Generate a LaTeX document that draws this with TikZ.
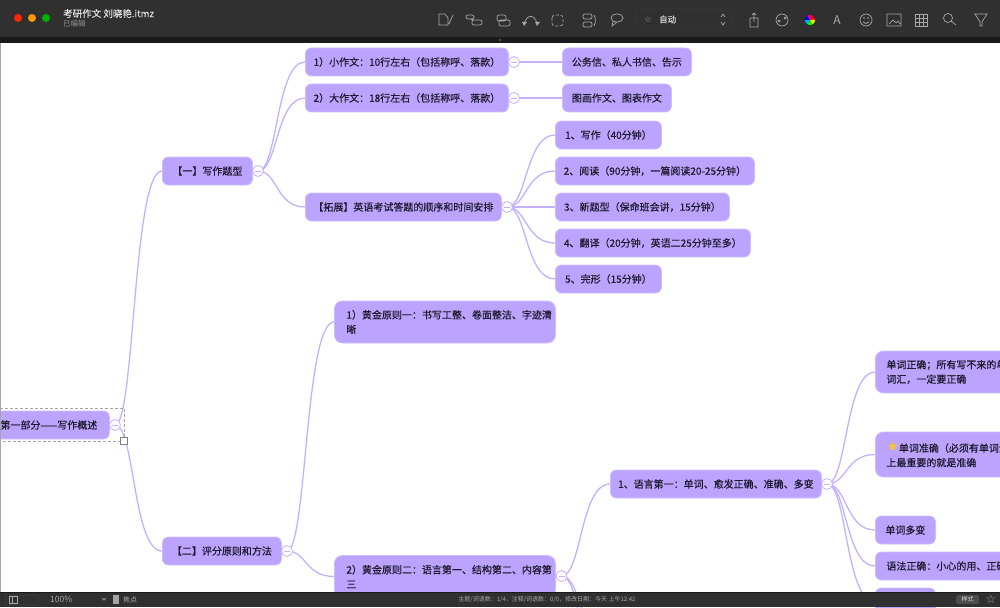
\documentclass[tikz,border=0pt]{standalone}
\usepackage{fontspec}
\usepackage{xcolor}
\setmainfont{Noto Sans CJK SC}
\newfontfamily\topicfont[FakeBold=0.35]{Noto Sans CJK SC}
\newfontfamily\symbolfont{DejaVu Sans}
\usetikzlibrary{calc,backgrounds}

\definecolor{topicfill}{HTML}{BBA3FF}
\definecolor{topicedge}{HTML}{CDBDFF}
\definecolor{branchcolor}{HTML}{C5B1FF}
\definecolor{topictext}{HTML}{1D1A2B}
\definecolor{titlebar}{HTML}{303030}
\definecolor{barstrip}{HTML}{1A1A1A}
\definecolor{iconcolor}{HTML}{A8A8A8}
\definecolor{stargold}{HTML}{F7C535}

\tikzset{
  topic/.style={draw=topicedge,fill=topicfill,line width=.8pt,rounded corners=6pt,anchor=west,
    minimum height=28pt,inner xsep=0pt,inner ysep=0pt,font=\topicfont\fontsize{10}{14.5}\selectfont,
    text=topictext,align=left},
  fold/.style={circle,draw=branchcolor,fill=white,line width=.8pt,minimum size=11pt,inner sep=0pt,
    path picture={\draw[branchcolor,line width=.7pt] (path picture bounding box.center) ++(-3pt,0) -- ++(6pt,0);}},
  branchline/.style={draw=branchcolor,line width=1.3pt,
    to path={.. controls ($(\tikztostart)!.42!(\tikztotarget |- \tikztostart)$)
      and ($(\tikztotarget)!.62!(\tikztostart |- \tikztotarget)$) .. (\tikztotarget)}},
  toolicon/.style={draw=iconcolor,line width=.7pt},
  bartext/.style={text=iconcolor,inner sep=0pt},
}

\begin{document}
\begin{tikzpicture}[x=1pt,y=-1pt]
\clip (0,0) rectangle (1000,607);

\node[topic,minimum width=121pt] (rootTopic) at (-12,425) {第一部分——写作概述};
\node[fold] (rootFold) at (115,425) {};

\node[topic,minimum width=90pt,align=center] (typeTopic) at (162,171) {【一】写作题型};
\node[fold] (typeFold) at (258,171) {};
\node[topic,minimum width=203pt,align=center] (smallEssay) at (305,62) {1）小作文：10行左右（包括称呼、落款）};
\node[fold] (smallFold) at (514,62) {};
\node[topic,minimum width=203pt,align=center] (bigEssay) at (305,98) {2）大作文：18行左右（包括称呼、落款）};
\node[fold] (bigFold) at (514,98) {};
\node[topic,minimum width=196pt,align=center] (extraOrder) at (305,207) {【拓展】英语考试答题的顺序和时间安排};
\node[fold] (extraFold) at (507,207) {};

\node[topic,minimum width=129pt,align=center] (letterKinds) at (562,62) {公务信、私人书信、告示};
\node[topic,minimum width=109pt,align=center] (chartKinds) at (562,98) {图画作文、图表作文};

\node[topic,minimum width=106pt,align=center] (orderOne) at (555,135) {1、写作（40分钟）};
\node[topic,minimum width=199pt,align=center] (orderTwo) at (555,171) {2、阅读（90分钟，一篇阅读20-25分钟）};
\node[topic,minimum width=174pt,align=center] (orderThree) at (555,207) {3、新题型（保命班会讲，15分钟）};
\node[topic,minimum width=195pt,align=center] (orderFour) at (555,243) {4、翻译（20分钟，英语二25分钟至多）};
\node[topic,minimum width=106pt,align=center] (orderFive) at (555,279) {5、完形（15分钟）};

\node[topic,minimum width=119pt,align=center] (ruleTopic) at (162,551) {【二】评分原则和方法};
\node[fold] (ruleFold) at (287,551) {};
\node[topic,minimum width=221pt,minimum height=42pt,inner xsep=12pt,text width=197pt,rounded corners=8pt] (ruleOne) at (334,322) {1）黄金原则一：书写工整、卷面整洁、字迹清\\晰};
\node[topic,minimum width=221pt,minimum height=42pt,inner xsep=12pt,text width=197pt,rounded corners=8pt] (ruleTwo) at (334,576.5) {2）黄金原则二：语言第一、结构第二、内容第\\三};
\node[fold] (ruleTwoFold) at (561.5,576) {};

\node[topic,minimum width=211pt,align=center] (langFirst) at (610,484) {1、语言第一：单词、愈发正确、准确、多变};
\node[fold] (langFold) at (827,484) {};

\node[topic,minimum width=170pt,minimum height=42pt,inner xsep=11pt,text width=148pt,rounded corners=8pt] (wordRight) at (875,372) {单词正确；所有写不来的单\\词汇，一定要正确};
\node[topic,minimum width=170pt,minimum height=45pt,inner xsep=11pt,text width=148pt,rounded corners=8pt] (wordExact) at (875,454.5) {{\symbolfont\fontsize{14}{14.5}\selectfont\textcolor{stargold}{★}}单词准确（必须有单词量\\上最重要的就是准确};
\node[topic,minimum width=60pt,align=center] (wordVary) at (875,530) {单词多变};
\node[topic,minimum width=170pt,inner xsep=11pt,text width=148pt] (grammarRight) at (875,566) {语法正确：小心的用、正确};
\node[topic,minimum width=60pt] (grammarNext) at (875,602) {};

\coordinate (ruleNextA) at (612,650);
\coordinate (ruleNextB) at (612,690);

\begin{scope}[on background layer]
\fill[white] (0,0) rectangle (1000,607);
\draw[branchline] (rootFold.center) to (typeTopic.west);
\draw[branchline] (rootFold.center) to (ruleTopic.west);
\draw[branchline] (typeFold.center) to (smallEssay.west);
\draw[branchline] (typeFold.center) to (bigEssay.west);
\draw[branchline] (typeFold.center) to (extraOrder.west);
\draw[branchline] (smallFold.center) to (letterKinds.west);
\draw[branchline] (bigFold.center) to (chartKinds.west);
\draw[branchline] (extraFold.center) to (orderOne.west);
\draw[branchline] (extraFold.center) to (orderTwo.west);
\draw[branchline] (extraFold.center) to (orderThree.west);
\draw[branchline] (extraFold.center) to (orderFour.west);
\draw[branchline] (extraFold.center) to (orderFive.west);
\draw[branchline] (ruleFold.center) to (ruleOne.west);
\draw[branchline] (ruleFold.center) to (ruleTwo.west);
\draw[branchline] (ruleTwoFold.center) to (langFirst.west);
\draw[branchline] (ruleTwoFold.center) to (ruleNextA);
\draw[branchline] (ruleTwoFold.center) to (ruleNextB);
\draw[branchline] (langFold.center) to (wordRight.west);
\draw[branchline] (langFold.center) to (wordExact.west);
\draw[branchline] (langFold.center) to (wordVary.west);
\draw[branchline] (langFold.center) to (grammarRight.west);
\draw[branchline] (langFold.center) to (grammarNext.west);
\end{scope}

\draw[gray!70,densely dashed,line width=.7pt] (0,408) -- (124,408) -- (124,441) -- (0,441);
\node[draw=gray,fill=white,line width=.7pt,minimum size=7pt,inner sep=0pt] (rootHandle) at (124,441) {};
\fill[gray!70] (0,43) rectangle (1,592);

\fill[titlebar] (0,0) rectangle (1000,37);
\fill[barstrip] (0,37) rectangle (1000,43);
\fill[gray!60!black] (500,40) circle (1.5);
\fill[titlebar] (0,592) rectangle (1000,607);
\draw[barstrip,line width=1pt] (0,592) -- (1000,592);

\fill[red!70!orange] (18,18) circle (4);
\fill[orange!80!yellow] (32,18) circle (4);
\fill[green!70!black] (46,18) circle (4);
\node[text=white!88!black,anchor=west,inner sep=0pt,font=\topicfont\fontsize{9.5}{11}\selectfont] (fileName) at (63,13.5) {考研作文 刘晓艳.itmz};
\node[text=gray!85!white,anchor=west,inner sep=0pt,font=\fontsize{7.5}{9}\selectfont] (fileState) at (63,23.5) {已编辑};

\draw[toolicon] (439,25) -- (439,14) -- (445,14) -- (448,18) -- (448,25) -- cycle (449,24) -- (453,15);
\draw[toolicon,rounded corners=2pt] (466,15) rectangle (474,19) (472,20) rectangle (482,25) (470,19) -- (473,20);
\draw[toolicon,rounded corners=2pt] (497,15) rectangle (506,21) (499,20) rectangle (510,26);
\draw[toolicon] (524,24) .. controls (527,14) and (534,14) .. (537,23);
\fill[iconcolor] (524,26) -- (522,22) -- (527,22) -- cycle (537,26) -- (535,22) -- (540,22) -- cycle;
\draw[toolicon,densely dashed,rounded corners=3pt] (552,15) rectangle (563,26);
\draw[toolicon,rounded corners=2pt] (583,14) rectangle (592,19) (583,22) rectangle (592,27) (594,15) -- (596,20) -- (594,26);
\draw[toolicon] (617,18) ellipse (6 and 4) (613,21) -- (612,26) -- (617,22);
\draw[gray!45!black,line width=.5pt,rounded corners=3pt] (635,9) rectangle (731,30);
\node[bartext,font=\symbolfont\fontsize{8}{9}\selectfont] (styleStar) at (648,19.5) {☆};
\node[text=white!85!black,inner sep=0pt,anchor=west,font=\topicfont\fontsize{8.5}{10}\selectfont] (styleAuto) at (659,19.5) {自动};
\draw[toolicon] (721,17) -- (723,14) -- (725,17) (721,22) -- (723,25) -- (725,22);
\draw[toolicon] (750,18) rectangle (758,27) (754,22) -- (754,13) (752,15) -- (754,13) -- (756,15);
\draw[toolicon] (782,20) circle (6) (779,21) circle (1) (785,18) circle (1);
\foreach \hueangle/\huename in {0/red,60/yellow,120/green,180/cyan,240/blue,300/magenta}
  \fill[\huename] (810,20) -- ++(\hueangle:5) arc[start angle=\hueangle,delta angle=-60,radius=5] -- cycle;
\node[bartext,font=\itshape\fontsize{12}{14}\selectfont] (fontGlyph) at (837,20) {A};
\draw[toolicon] (866,20) circle (6) (863,22) .. controls (865,24) and (867,24) .. (869,22);
\fill[iconcolor] (864,18) circle (.8) (868,18) circle (.8);
\draw[toolicon] (887,14) rectangle (901,26) (889,24) -- (893,20) -- (896,23) -- (898,21) -- (900,24);
\draw[toolicon] (915,14) rectangle (927,26) (915,18) -- (927,18) (915,22) -- (927,22) (919,14) -- (919,26) (923,14) -- (923,26);
\draw[toolicon] (948,18) circle (4.5) (951,21) -- (956,25);
\draw[toolicon] (975,14) -- (987,14) -- (982,22) -- (982,26) -- (980,26) -- (980,22) -- cycle;

\draw[gray!45!black,line width=.5pt] (5,595) rectangle (38,604);
\draw[toolicon] (9,596) rectangle (17,603) (12,596) -- (12,603);
\node[bartext,anchor=west,font=\fontsize{8.5}{10}\selectfont] (zoomLevel) at (50,599.5) {100\%};
\draw[toolicon] (102,598) -- (104,600) -- (106,598);
\fill[gray!70] (113,595) rectangle (119,604);
\node[bartext,anchor=west,font=\fontsize{7}{8}\selectfont] (focusLabel) at (123,599.5) {焦点};
\node[bartext,font=\fontsize{6}{7}\selectfont] (statusLine) at (547,599.5) {主题/词语数：1/4，注释/词语数：0/0，修改日期：今天 上午12:42};
\node[fill=gray!60!black,rounded corners=1.5pt,text=white!85!black,minimum width=23pt,minimum height=9pt,inner sep=0pt,font=\fontsize{6}{7}\selectfont] (styleButton) at (967.5,599.5) {样式};
\node[text=iconcolor,inner sep=0pt,font=\symbolfont\fontsize{12}{14}\selectfont] (favStar) at (991,599) {☆};
\end{tikzpicture}
\end{document}
